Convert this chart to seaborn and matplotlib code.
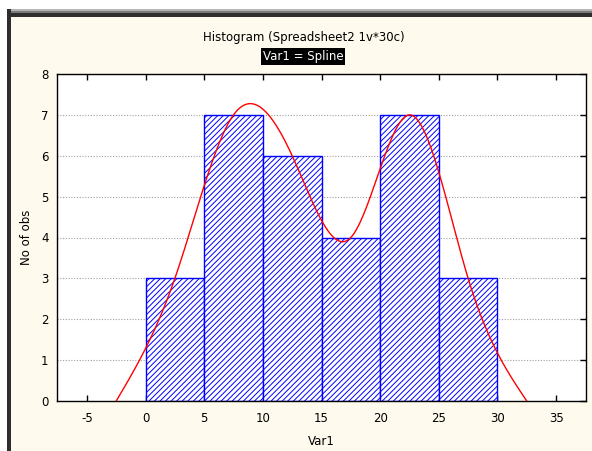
import numpy as np
import matplotlib
matplotlib.use("Agg")
import matplotlib.pyplot as plt
from matplotlib.patches import Rectangle
import seaborn as sns

# Histogram of Var1 (bins of width 5) and the spline through bin midpoints
bin_edges = [0, 5, 10, 15, 20, 25, 30]
counts = [3, 7, 6, 4, 7, 3]
spline_x = [-2.5, 2.5, 7.5, 12.5, 17.5, 22.5, 27.5, 32.5]
spline_y = [0, 3, 7, 6, 4, 7, 3, 0]
x_ticks = [-5, 0, 5, 10, 15, 20, 25, 30, 35]
y_ticks = [0, 1, 2, 3, 4, 5, 6, 7, 8]


def natural_cubic_spline(xk, yk, xs):
    xk = np.asarray(xk, float)
    yk = np.asarray(yk, float)
    n = len(xk)
    h = np.diff(xk)
    A = np.zeros((n, n))
    b = np.zeros(n)
    A[0, 0] = A[-1, -1] = 1.0
    for i in range(1, n - 1):
        A[i, i - 1] = h[i - 1]
        A[i, i] = 2 * (h[i - 1] + h[i])
        A[i, i + 1] = h[i]
        b[i] = 6 * ((yk[i + 1] - yk[i]) / h[i] - (yk[i] - yk[i - 1]) / h[i - 1])
    M = np.linalg.solve(A, b)
    idx = np.clip(np.searchsorted(xk, xs) - 1, 0, n - 2)
    x0, x1 = xk[idx], xk[idx + 1]
    hh = x1 - x0
    t0, t1 = x1 - xs, xs - x0
    return (M[idx] * t0 ** 3 / (6 * hh) + M[idx + 1] * t1 ** 3 / (6 * hh)
            + (yk[idx] / hh - M[idx] * hh / 6) * t0
            + (yk[idx + 1] / hh - M[idx + 1] * hh / 6) * t1)


sns.set_style("white")
plt.rcParams["font.family"] = ["DejaVu Sans"]
plt.rcParams["hatch.linewidth"] = 0.7
plt.rcParams["axes.unicode_minus"] = False
plt.rcParams["text.color"] = "black"
plt.rcParams["axes.labelcolor"] = "black"

W, H = 592, 451
fig = plt.figure(figsize=(W / 100, H / 100), dpi=100)
fig.patch.set_facecolor("white")

# window frame and cream panel
def px_rect(x0, y0, x1, y1, color, z):
    fig.patches.append(Rectangle((x0 / W, 1 - y1 / H), (x1 - x0) / W, (y1 - y0) / H,
                                 transform=fig.transFigure, facecolor=color,
                                 edgecolor="none", zorder=z))

px_rect(7, 9, W, H, "#fffaee", -20)
px_rect(7, 9, W, 11, "#b4b4b4", -10)
px_rect(7, 11, W, 13, "#7a7a7a", -10)
px_rect(7, 13, W, 17, "#2e2e2e", -10)
px_rect(7, 9, 11, H, "#2e2e2e", -10)

ax = fig.add_axes([57 / W, 1 - 401 / H, (586 - 57) / W, (401 - 74) / H])
ax.set_facecolor("white")

mids = [(a + b) / 2 for a, b in zip(bin_edges[:-1], bin_edges[1:])]
sns.histplot(x=mids, weights=counts, bins=bin_edges, ax=ax,
             color="white", edgecolor="#0000ff", linewidth=1.0, alpha=1.0,
             zorder=2)
for p in ax.patches:
    p.set_hatch("//////")
    p.set_facecolor("white")
    p.set_edgecolor("#0000ff")

xs = np.linspace(spline_x[0], spline_x[-1], 400)
ys = natural_cubic_spline(spline_x, spline_y, xs)
sns.lineplot(x=xs, y=ys, ax=ax, color="#ff0000", linewidth=1.0, zorder=3,
             estimator=None, sort=False)

ax.set_xlim(-7.55, 37.55)
ax.set_ylim(0, 8)
ax.set_xticks(x_ticks)
ax.set_yticks(y_ticks)
ax.yaxis.grid(True, linestyle=(0, (1, 1.5)), color="#a0a0a0", linewidth=0.8, zorder=0)
ax.xaxis.grid(False)
ax.set_axisbelow(True)
for s in ax.spines.values():
    s.set_color("#000000")
    s.set_linewidth(1.0)
ax.tick_params(axis="x", direction="in", top=True, bottom=True, length=4,
               width=1, labelsize=8.5, pad=8, colors="black")
ax.tick_params(axis="y", direction="in", left=False, right=True, labelleft=True,
               length=4, width=1, labelsize=8.5, pad=6, colors="black")

ax.set_xlabel("Var1", fontsize=8.5, labelpad=7)
ax.set_ylabel("No of obs", fontsize=8.5, labelpad=6)

fig.text(304 / W, 1 - 37 / H, "Histogram (Spreadsheet2 1v*30c)", ha="center",
         va="center", fontsize=8.5, color="black")
fig.text(303 / W, 1 - 56.5 / H, "Var1 = Spline", ha="center", va="center",
         fontsize=8.5, color="white",
         bbox=dict(boxstyle="square,pad=0.15", facecolor="black", edgecolor="none"))

fig.savefig("out.png", dpi=100)
